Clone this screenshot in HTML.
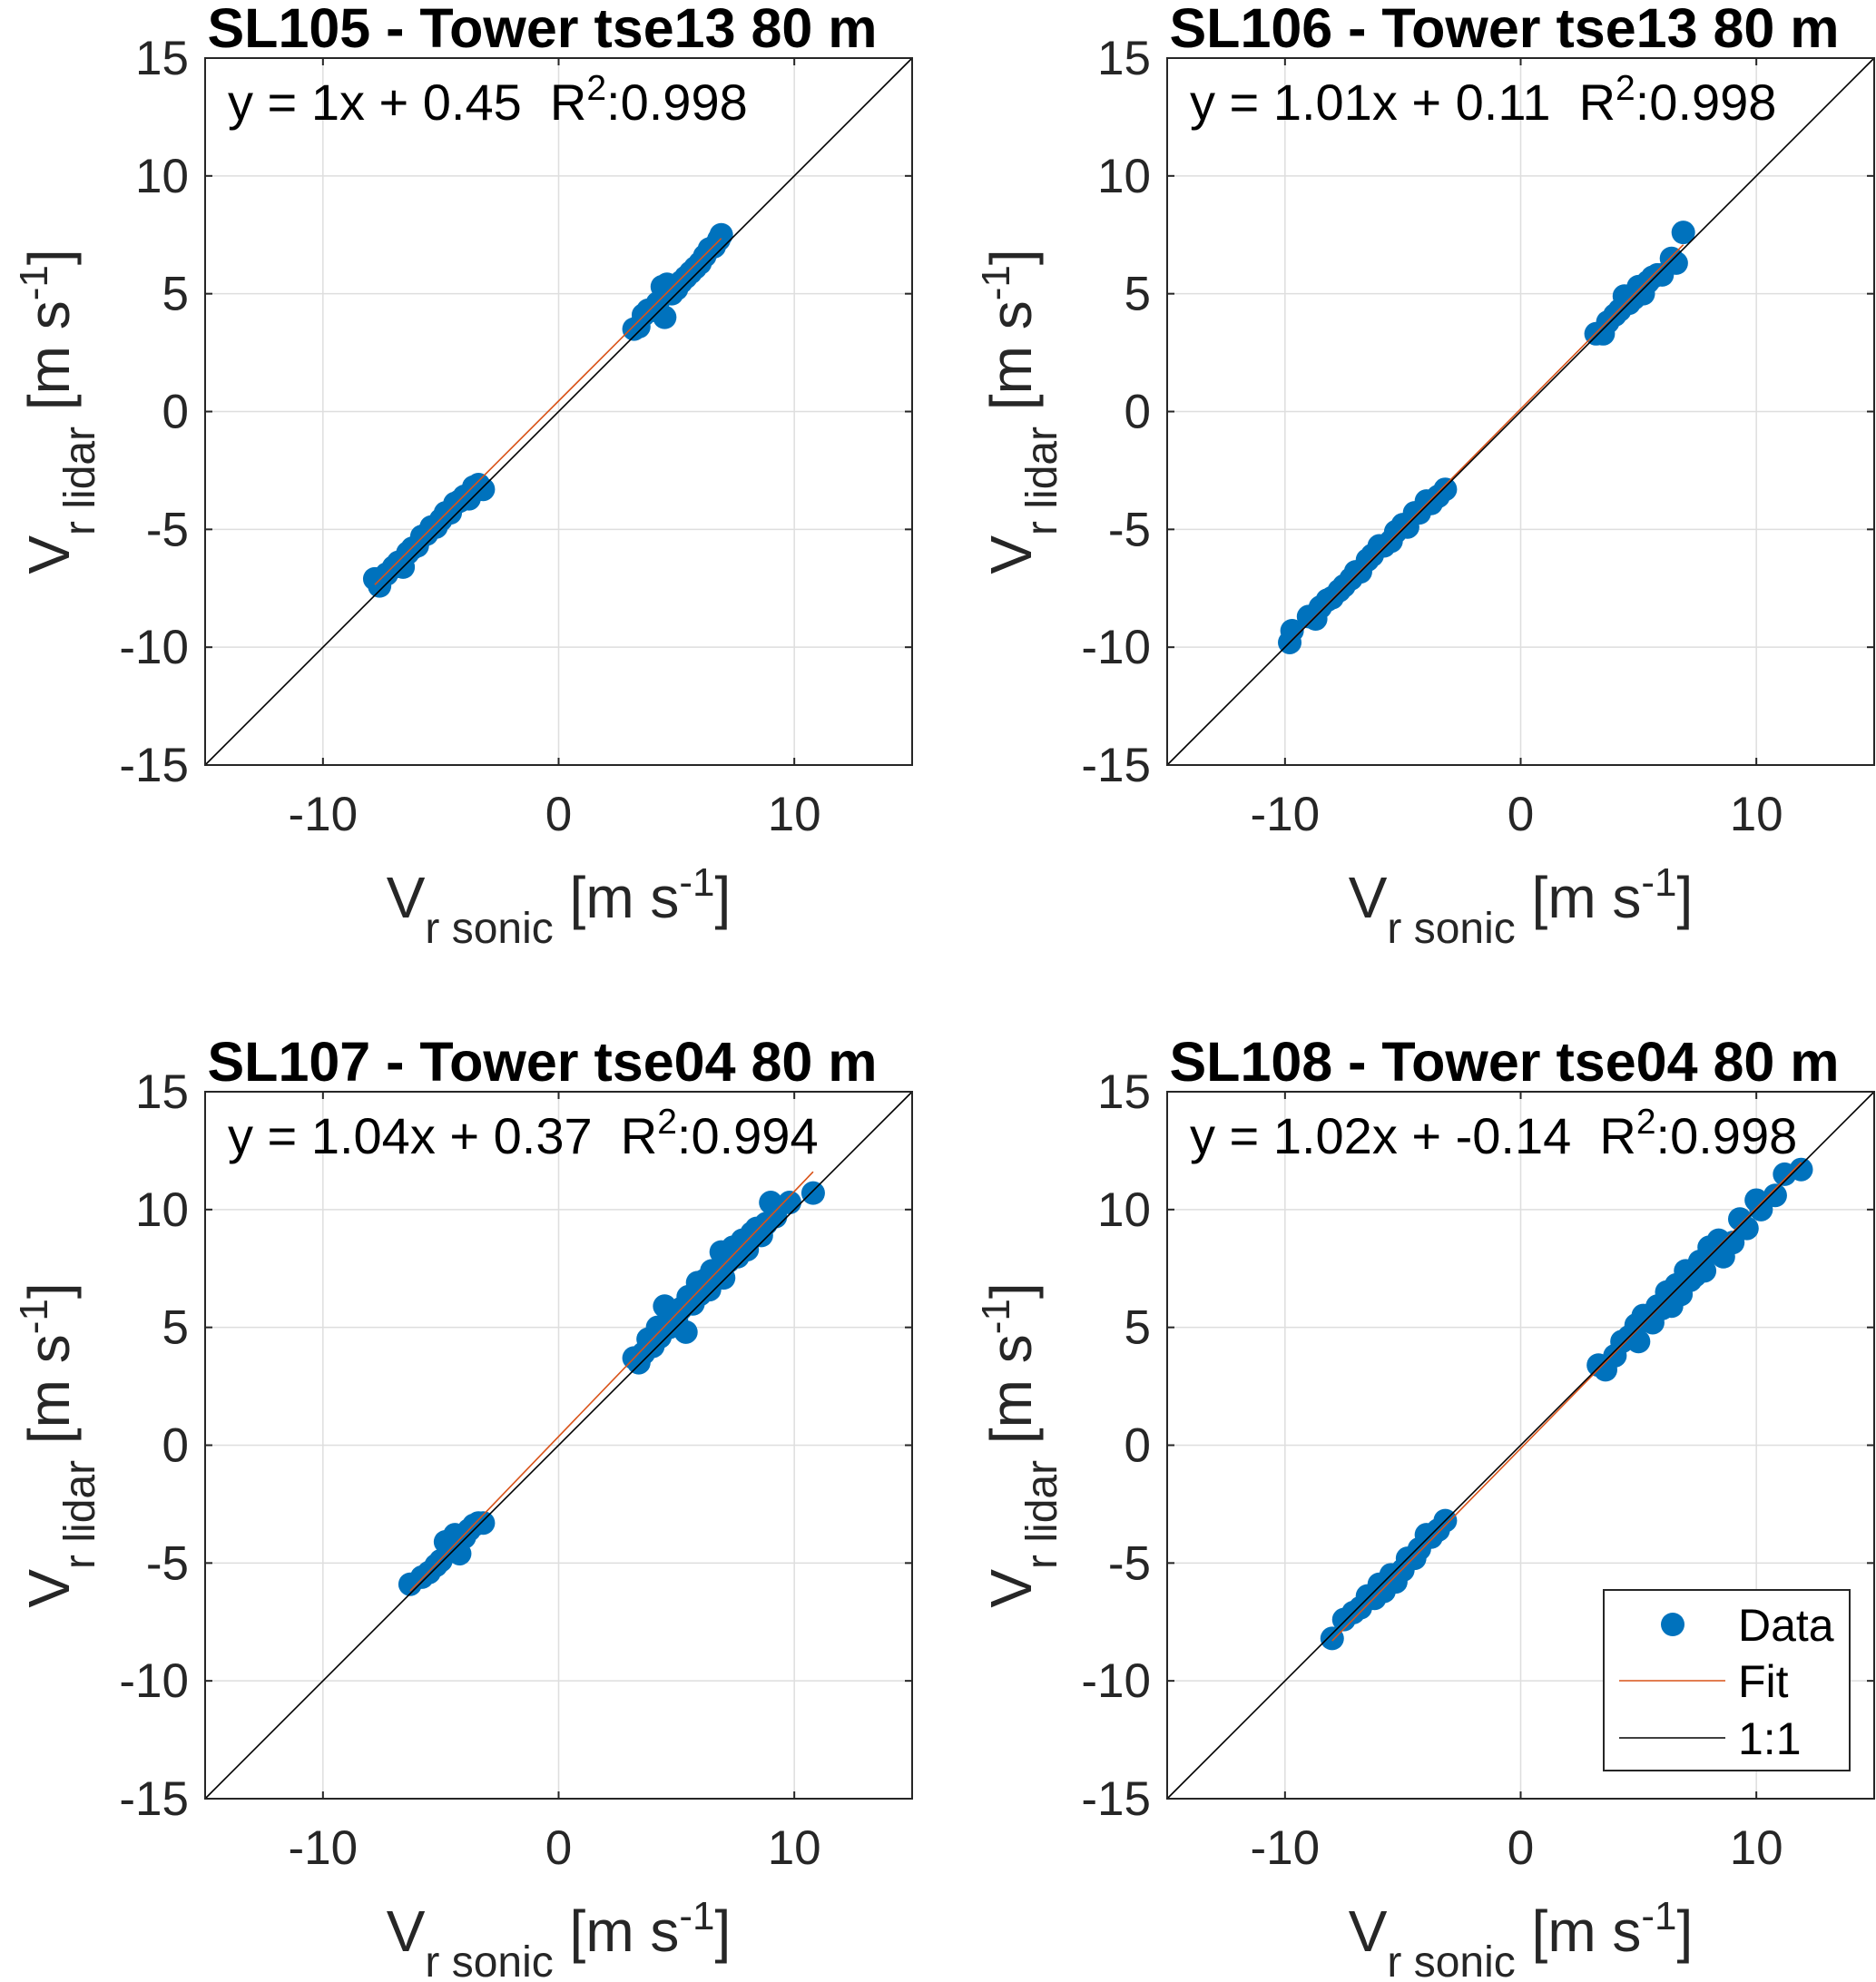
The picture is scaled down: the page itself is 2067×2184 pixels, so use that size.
<!DOCTYPE html>
<html><head><meta charset="utf-8">
<style>
html,body{margin:0;padding:0;background:#fff;}
svg{display:block;font-family:"Liberation Sans",Arial,sans-serif;}
text{white-space:pre;}
</style></head>
<body>
<svg id="fig" width="2067" height="2184" viewBox="0 0 2067 2184" xmlns="http://www.w3.org/2000/svg"></svg>
<script>
const titles = ["SL105 - Tower tse13 80 m","SL106 - Tower tse13 80 m","SL107 - Tower tse04 80 m","SL108 - Tower tse04 80 m"];
const slopes = [1.00, 1.01, 1.04, 1.02];
const intercepts = [0.45, 0.11, 0.37, -0.14];
const eqSlope = ["1","1.01","1.04","1.02"];
const eqIntercept = ["0.45","0.11","0.37","-0.14"];
const r2 = ["0.998","0.998","0.994","0.998"];
const xTicks = [-10, 0, 10];
const yTicks = [-15, -10, -5, 0, 5, 10, 15];
const gridX = [-10, 0, 10];
const gridY = [-10, -5, 0, 5, 10];

const x1 = [-7.8,-7.6,-7.3,-7.0,-6.8,-6.6,-6.4,-6.2,-6.0,-5.8,-5.6,-5.4,-5.2,-5.0,-4.8,-4.6,-4.4,-4.2,-4.0,-3.8,-3.6,-3.4,-3.2,3.2,3.4,3.6,3.8,4.0,4.2,4.4,4.6,4.8,5.0,5.2,5.4,5.6,5.8,6.0,6.2,6.4,6.6,6.8,6.9,4.5];
const y1 = [-7.1,-7.4,-6.9,-6.6,-6.4,-6.6,-6.0,-5.8,-5.7,-5.3,-5.2,-4.9,-4.9,-4.6,-4.3,-4.3,-3.9,-3.8,-3.6,-3.7,-3.2,-3.1,-3.3,3.5,3.6,4.1,4.3,4.3,4.6,5.3,5.4,5.0,5.2,5.5,5.7,5.9,6.1,6.3,6.6,6.9,7.0,7.3,7.5,4.0];
const x2 = [-9.8,-9.7,-9.0,-8.7,-8.5,-8.2,-8.0,-7.7,-7.5,-7.2,-7.0,-6.8,-6.5,-6.3,-6.0,-5.8,-5.5,-5.3,-5.0,-4.8,-4.5,-4.3,-4.0,-3.8,-3.5,-3.2,3.2,3.5,3.7,4.0,4.2,4.4,4.6,4.8,5.0,5.2,5.4,5.6,5.8,6.0,6.4,6.6,6.9];
const y2 = [-9.8,-9.3,-8.7,-8.8,-8.3,-8.0,-7.9,-7.6,-7.4,-7.1,-6.8,-6.8,-6.3,-6.1,-5.7,-5.7,-5.5,-5.1,-4.8,-4.9,-4.3,-4.3,-3.8,-3.9,-3.6,-3.3,3.3,3.3,3.8,4.1,4.3,4.9,4.6,4.8,5.3,5.0,5.5,5.7,5.8,5.8,6.5,6.3,7.6];
const x3 = [-6.3,-5.8,-5.5,-5.2,-5.0,-4.8,-4.6,-4.4,-4.2,-4.0,-3.8,-3.6,-3.4,-3.2,3.2,3.4,3.6,3.8,4.0,4.2,4.3,4.5,4.7,4.9,5.0,5.2,5.4,5.5,5.7,5.9,6.0,6.2,6.4,6.5,6.7,6.9,7.0,7.2,7.4,7.6,7.8,8.0,8.2,8.4,8.6,8.8,9.0,9.2,9.8,10.8];
const y3 = [-5.9,-5.6,-5.4,-5.1,-4.9,-4.1,-4.5,-3.8,-4.6,-3.9,-3.6,-3.4,-3.3,-3.3,3.7,3.5,3.9,4.5,4.2,5.0,4.6,5.9,5.0,5.6,5.4,5.8,4.8,6.3,6.0,6.9,6.4,7.0,6.6,7.4,7.3,8.2,7.1,7.8,8.4,8.0,8.7,8.3,9.0,9.2,8.9,9.4,10.3,9.7,10.3,10.7];
const x4 = [-8.0,-7.5,-7.1,-6.8,-6.5,-6.2,-6.0,-5.8,-5.5,-5.3,-5.0,-4.8,-4.5,-4.3,-4.0,-3.8,-3.5,-3.2,3.3,3.6,4.0,4.3,4.6,4.9,5.0,5.2,5.4,5.6,5.8,6.0,6.2,6.4,6.6,6.8,7.0,7.2,7.4,7.6,7.8,8.0,8.2,8.4,8.6,9.0,9.3,9.6,10.0,10.2,10.8,11.2,11.9];
const y4 = [-8.2,-7.4,-7.1,-6.9,-6.4,-6.5,-5.9,-6.2,-5.5,-5.8,-5.3,-4.8,-4.8,-4.4,-3.8,-3.9,-3.6,-3.2,3.4,3.2,3.8,4.4,4.6,5.1,4.4,5.5,5.3,5.2,5.9,5.8,6.5,5.9,6.8,6.4,7.4,7.0,7.2,7.8,7.4,8.4,8.2,8.7,8.0,8.6,9.6,9.2,10.4,10.0,10.6,11.5,11.7];
const xs = [x1,x2,x3,x4], ys = [y1,y2,y3,y4];

const NS = "http://www.w3.org/2000/svg";
const svg = document.getElementById("fig");
function mk(tag, attrs, parent, text){
  const e = document.createElementNS(NS, tag);
  for (const k in attrs) e.setAttribute(k, attrs[k]);
  if (text !== undefined) e.textContent = text;
  (parent||svg).appendChild(e);
  return e;
}
const lefts = [226, 1286, 226, 1286], tops = [64, 64, 1203, 1203];
const W = 779, H = 779;

for (let p = 0; p < 4; p++){
  const L = lefts[p], T = tops[p];
  const sx = v => L + (v + 15) / 30 * W;
  const sy = v => T + H - (v + 15) / 30 * H;
  const g = mk("g", {});
  
  
  gridX.forEach(v => { const l = mk("line",{x1:sx(v),x2:sx(v),y1:T,y2:T+H,stroke:"#dedede","stroke-width":1.5},g);
      });
  gridY.forEach(v => { const l = mk("line",{x1:L,x2:L+W,y1:sy(v),y2:sy(v),stroke:"#dedede","stroke-width":1.5},g);
      });
  const pts = mk("g", {fill:"#0072BD"}, g);
  
  
  const X = xs[p], Y = ys[p];
  for (let i = 0; i < X.length; i++){
    const c = mk("circle",{cx:sx(X[i]),cy:sy(Y[i]),r:13},pts);
    
    
  }
  const xmin = Math.min(...X), xmax = Math.max(...X);
  const fl = mk("line",{x1:sx(xmin),y1:sy(slopes[p]*xmin+intercepts[p]),x2:sx(xmax),y2:sy(slopes[p]*xmax+intercepts[p]),stroke:"#D95319","stroke-width":1.6},g);
  
  
  const ol = mk("line",{x1:sx(-15),y1:sy(-15),x2:sx(15),y2:sy(15),stroke:"#000","stroke-width":1.6},g);
  
  
  const bx = mk("rect",{x:L,y:T,width:W,height:H,fill:"none",stroke:"#262626","stroke-width":2},g);
  
  
  xTicks.forEach(v => {
    mk("line",{x1:sx(v),x2:sx(v),y1:T+H,y2:T+H-8,stroke:"#262626","stroke-width":2},g);
    mk("line",{x1:sx(v),x2:sx(v),y1:T,y2:T+8,stroke:"#262626","stroke-width":2},g);
    const t = mk("text",{x:sx(v),y:T+H+72,"text-anchor":"middle","font-size":53,fill:"#262626"},g,String(v));
     
  });
  yTicks.forEach(v => {
    mk("line",{x1:L,x2:L+8,y1:sy(v),y2:sy(v),stroke:"#262626","stroke-width":2},g);
    mk("line",{x1:L+W,x2:L+W-8,y1:sy(v),y2:sy(v),stroke:"#262626","stroke-width":2},g);
    const t = mk("text",{x:L-18,y:sy(v)+18,"text-anchor":"end","font-size":53,fill:"#262626"},g,String(v));
     
  });
  const tt = mk("text",{x:L+W/2-18,y:T-12,"text-anchor":"middle","font-size":61,"font-weight":"bold",fill:"#000"},g,titles[p]);
   
  const eq = mk("text",{x:L+25,y:T+68,"font-size":56,fill:"#000"},g);
   
  mk("tspan",{},eq,"y = "+eqSlope[p]+"x + "+eqIntercept[p]+"  R");
  mk("tspan",{dy:-22,"font-size":39},eq,"2");
  mk("tspan",{dy:22},eq,":"+r2[p]);
  const xl = mk("text",{x:L+W/2,y:T+H+168,"text-anchor":"middle","font-size":64,fill:"#262626"},g);
   
  mk("tspan",{},xl,"V");
  mk("tspan",{dy:28,"font-size":48},xl,"r sonic");
  mk("tspan",{dy:-28},xl," [m s");
  mk("tspan",{dy:-24,"font-size":44},xl,"-1");
  mk("tspan",{dy:24},xl,"]");
  const cx = L-150, cy = T+H/2;
  const yl = mk("text",{x:cx,y:cy,"text-anchor":"middle","font-size":64,fill:"#262626",transform:`rotate(-90 ${cx} ${cy})`},g);
   
  mk("tspan",{},yl,"V");
  mk("tspan",{dy:28,"font-size":48},yl,"r lidar");
  mk("tspan",{dy:-28},yl," [m s");
  mk("tspan",{dy:-24,"font-size":44},yl,"-1");
  mk("tspan",{dy:24},yl,"]");
}
const lg = mk("g",{});


mk("rect",{x:1767,y:1752,width:271,height:199,fill:"#fff",stroke:"#262626","stroke-width":2},lg);
const ld = mk("circle",{cx:1843,cy:1790,r:13,fill:"#0072BD"},lg);
 
mk("text",{x:1915,y:1808,"font-size":50,fill:"#000"},lg,"Data");
const lf = mk("line",{x1:1784,x2:1901,y1:1852,y2:1852,stroke:"#D95319","stroke-width":1.6},lg);
 
mk("text",{x:1915,y:1870,"font-size":50,fill:"#000"},lg,"Fit");
const lo = mk("line",{x1:1784,x2:1901,y1:1915,y2:1915,stroke:"#000","stroke-width":1.6},lg);
 
mk("text",{x:1915,y:1933,"font-size":50,fill:"#000"},lg,"1:1");
</script>
</body></html>
